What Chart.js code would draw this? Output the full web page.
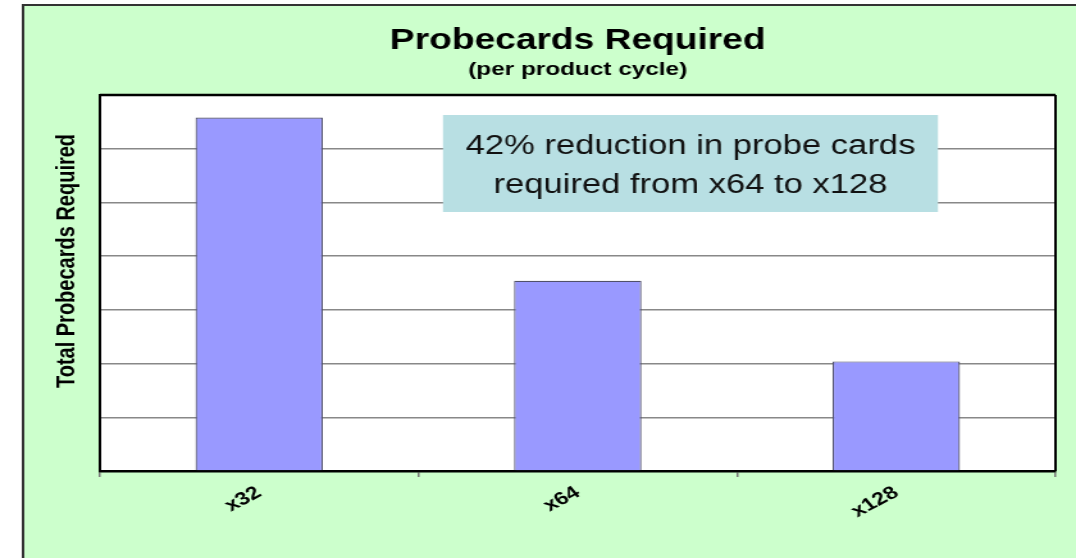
<!DOCTYPE html>
<html>
<head>
<meta charset="utf-8">
<script src="https://cdn.jsdelivr.net/npm/chart.js@4"></script>
<style>
  html, body { margin:0; padding:0; background:#fff; }
  /* the source picture is stretched sideways, so the canvas is too */
  #probeChart { display:block; width:1076px; height:558px; }
</style>
</head>
<body>
<canvas id="probeChart" width="840" height="558" style="width:1076px;height:558px"></canvas>
<script>
// =========================
// DATA
// =========================

const categories = ["x32", "x64", "x128"];
const probecards = [329, 177, 102];

const yMax = 350;
const yStep = 50;

const chartTitle = "Probecards Required";
const chartSubtitle = "(per product cycle)";
const yTitle = "Total Probecards Required";
const noteLines = ["42% reduction in probe cards", "required from x64 to x128"];

// =========================
// PLUGINS
// =========================

const FONT = "'Liberation Sans', Arial, sans-serif";

const background = {
  id: "background",
  beforeDraw(chart){
    const ctx = chart.ctx;
    ctx.save();
    ctx.fillStyle = "#fff";
    ctx.fillRect(0, 0, chart.width, chart.height);
    ctx.fillStyle = "#CCFFCC";
    ctx.fillRect(18, 5, chart.width - 18, chart.height - 5);
    ctx.strokeStyle = "#333";
    ctx.lineWidth = 2;
    ctx.beginPath();
    ctx.moveTo(18, chart.height);
    ctx.lineTo(18, 5);
    ctx.lineTo(chart.width, 5);
    ctx.stroke();
    // white plot area
    const a = chart.chartArea;
    ctx.fillStyle = "#fff";
    ctx.fillRect(a.left, a.top, a.right - a.left, a.bottom - a.top);
    ctx.restore();
  }
};

const frame = {
  id: "frame",
  afterDraw(chart){
    const ctx = chart.ctx;
    const a = chart.chartArea;
    ctx.save();
    ctx.strokeStyle = "#000";
    ctx.lineWidth = 2.5;
    ctx.beginPath();
    ctx.moveTo(a.left, a.top);
    ctx.lineTo(a.right, a.top);
    ctx.stroke();
    ctx.lineWidth = 2;
    ctx.beginPath();
    ctx.moveTo(a.right, a.top);
    ctx.lineTo(a.right, a.bottom);
    ctx.stroke();

    // y title
    ctx.fillStyle = "#000";
    ctx.font = "bold 20px " + FONT;
    ctx.textAlign = "center";
    ctx.textBaseline = "middle";
    ctx.translate(52, 261);
    ctx.rotate(-Math.PI / 2);
    ctx.fillText(yTitle, 0, 0);
    ctx.restore();

    // note box
    const w = a.right - a.left;
    const x0 = a.left + w * 0.359;
    const x1 = a.left + w * 0.877;
    const y0 = 115, y1 = 212;
    ctx.save();
    ctx.fillStyle = "#B8DFE3";
    ctx.fillRect(x0, y0, x1 - x0, y1 - y0);
    ctx.fillStyle = "#111";
    ctx.font = "27px " + FONT;
    ctx.textAlign = "center";
    ctx.textBaseline = "middle";
    ctx.fillText(noteLines[0], (x0 + x1) / 2, 147);
    ctx.fillText(noteLines[1], (x0 + x1) / 2, 186);
    ctx.restore();
  }
};

// =========================
// CHART
// =========================

new Chart(document.getElementById("probeChart"), {
  type: "bar",
  data: {
    labels: categories,
    datasets: [{
      data: probecards,
      backgroundColor: "#9999FF",
      borderColor: "#50506a",
      borderWidth: 1.2,
      barPercentage: 0.4,
      categoryPercentage: 1
    }]
  },
  options: {
    responsive: false,
    animation: false,
    devicePixelRatio: 1,
    layout: { padding: { top: 23, right: 16, bottom: 0, left: 0 } },
    plugins: {
      legend: { display: false },
      tooltip: { enabled: false },
      title: {
        display: true,
        fullSize: false,
        text: chartTitle,
        color: "#000",
        font: { family: FONT, size: 29, weight: "bold", lineHeight: 1.2 },
        padding: { top: 1, bottom: 0 }
      },
      subtitle: {
        display: true,
        fullSize: false,
        text: chartSubtitle,
        color: "#000",
        font: { family: FONT, size: 19, weight: "bold", lineHeight: 1.2 },
        padding: { top: 0, bottom: 13.4 }
      }
    },
    scales: {
      x: {
        grid: { drawOnChartArea: false, drawTicks: true, tickLength: 6, color: "#777", lineWidth: 1.5 },
        border: { color: "#000", width: 2.5 },
        ticks: {
          color: "#000",
          font: { family: FONT, size: 18, weight: "bold" },
          minRotation: 34,
          maxRotation: 34,
          padding: 5
        },
        afterFit(scale){ scale.height = 87; }
      },
      y: {
        min: 0,
        max: yMax,
        ticks: { display: false, stepSize: yStep },
        grid: { color: "#888", lineWidth: 1.5, drawTicks: false },
        border: { color: "#000", width: 2 },
        afterFit(scale){ scale.width = 78; }
      }
    }
  },
  plugins: [background, frame]
});
</script>
</body>
</html>
